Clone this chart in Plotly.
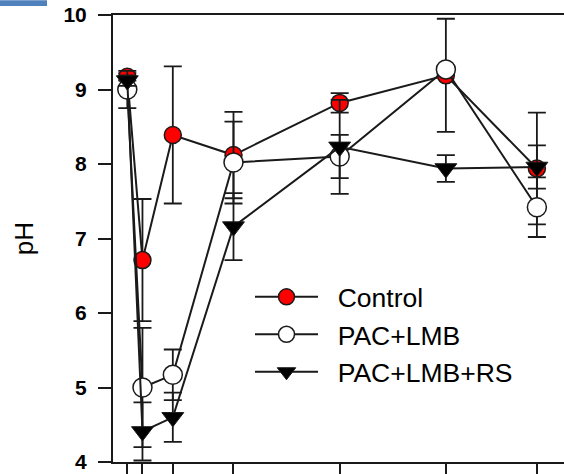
import plotly.graph_objects as go

# Sampling days and measured pH (mean ± SD) for each treatment
days = [0, 1, 3, 7, 14, 21, 27]
day_ticks = [0, 1, 3, 7, 14, 21, 27]
ph_ticks = [4, 5, 6, 7, 8, 9, 10]

control = [9.17, 6.71, 8.39, 8.12, 8.82, 9.19, 7.94]
control_sd = [0.05, 0.82, 0.92, 0.58, 0.13, 0.76, 0.75]

pac_lmb = [9.00, 5.00, 5.17, 8.02, 8.10, 9.27, 7.42]
pac_lmb_sd = [0.25, 0.80, 0.34, 0.55, 0.29, 0.05, 0.40]

pac_lmb_rs = [9.12, 4.41, 4.60, 7.16, 8.23, 7.94, 7.96]
pac_lmb_rs_sd = [0.07, 0.39, 0.33, 0.45, 0.63, 0.18, 0.29]

W, H = 564, 474
ML, MR, MT, MB = 113, 0, 15, 7
PW, PH = W - ML - MR, H - MT - MB

FONT = "Arial, 'Liberation Sans', sans-serif"
INK = "#1a1a1a"
GAP = "&nbsp;&nbsp;"  # extra room between legend symbol and its label


def err(vals):
    return dict(type="data", array=vals, visible=True, color=INK,
                thickness=1.8, width=9)


fig = go.Figure()

fig.add_trace(go.Scatter(
    x=days, y=control, name=GAP + "Control", mode="lines+markers",
    line=dict(color=INK, width=2),
    marker=dict(symbol="circle", size=17, color="#ff0000",
                line=dict(color=INK, width=1.5)),
    error_y=err(control_sd),
))
fig.add_trace(go.Scatter(
    x=days, y=pac_lmb, name=GAP + "PAC+LMB", mode="lines+markers",
    line=dict(color=INK, width=2),
    marker=dict(symbol="circle", size=19, color="#ffffff",
                line=dict(color=INK, width=1.5)),
    error_y=err(pac_lmb_sd),
))
fig.add_trace(go.Scatter(
    x=days, y=pac_lmb_rs, name=GAP + "PAC+LMB+RS", mode="lines+markers",
    line=dict(color=INK, width=2),
    marker=dict(symbol="triangle-down", size=19, color="#000000",
                line=dict(color=INK, width=1)),
    error_y=err(pac_lmb_rs_sd),
))

# x range chosen so day 0 sits just inside the left axis
px_per_day = 15.17
x_left = -(127.3 - ML) / px_per_day
x_right = x_left + PW / px_per_day

fig.update_layout(
    width=W, height=H,
    margin=dict(l=ML, r=MR, t=MT, b=MB, pad=0),
    paper_bgcolor="white", plot_bgcolor="white",
    font=dict(family=FONT, color="black"),
    showlegend=True,
    legend=dict(
        x=(250 - ML) / PW, y=(H - MB - 276) / PH,
        xanchor="left", yanchor="top",
        bgcolor="rgba(0,0,0,0)", borderwidth=0,
        font=dict(size=26.5, family=FONT, color="black"),
        itemwidth=63, tracegroupgap=0,
    ),
    xaxis=dict(
        range=[x_left, x_right], tickmode="array", tickvals=day_ticks,
        showticklabels=False, ticks="outside", ticklen=12, tickwidth=1.8,
        tickcolor=INK, showline=True, linecolor=INK, linewidth=2,
        mirror=True, showgrid=False, zeroline=False,
    ),
    yaxis=dict(
        range=[4, 10], tickmode="array", tickvals=ph_ticks,
        ticktext=[f"<b>{v}</b>" for v in ph_ticks],
        ticks="outside", ticklen=13, tickwidth=1.8, tickcolor=INK,
        tickfont=dict(size=21, family=FONT, color="black"),
        ticklabelstandoff=7,
        showline=True, linecolor=INK, linewidth=2,
        showgrid=False, zeroline=False,
        title=dict(text="pH", font=dict(size=26, family=FONT, color="black"),
                   standoff=22),
    ),
    shapes=[dict(
        type="rect", xref="paper", yref="paper", layer="above",
        x0=(0 - ML) / PW, x1=(47 - ML) / PW,
        y0=(H - MB - 6) / PH, y1=(H - MB - 0) / PH,
        fillcolor="#4f81bd", line=dict(width=0),
    )],
)

fig.write_html("out.html")
